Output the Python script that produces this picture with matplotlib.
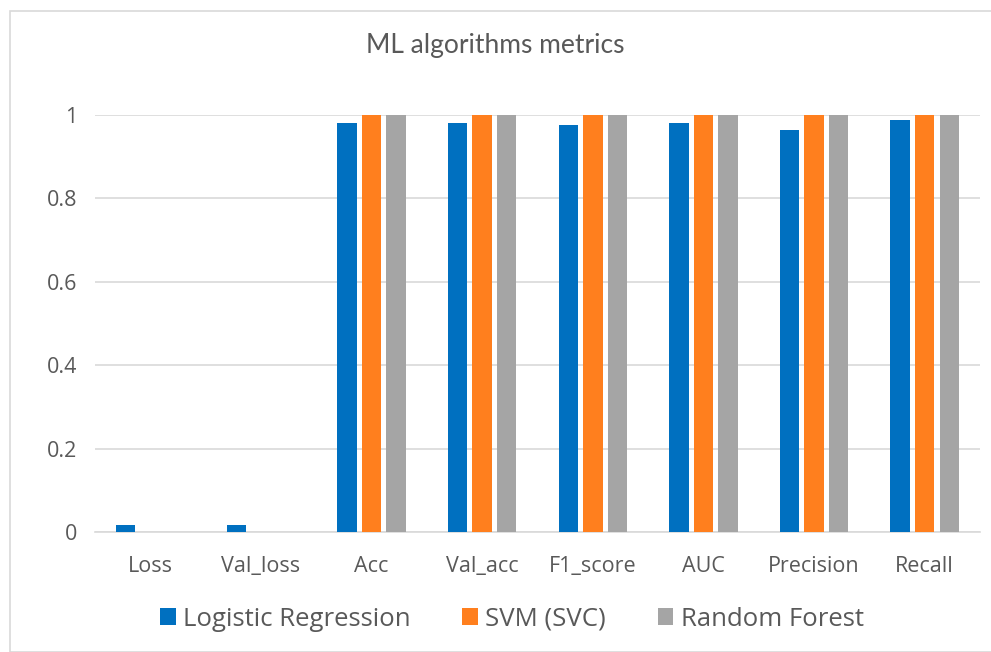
import matplotlib
matplotlib.use("Agg")
import matplotlib.pyplot as plt
import numpy as np
from matplotlib.patches import Rectangle

categories = ["Loss", "Val_loss", "Acc", "Val_acc", "F1_score", "AUC", "Precision", "Recall"]
series_names = ["Logistic Regression", "SVM (SVC)", "Random Forest"]
logreg = [0.016, 0.016, 0.980, 0.980, 0.975, 0.982, 0.964, 0.987]
svm = [0.0, 0.0, 1.0, 1.0, 1.0, 1.0, 1.0, 1.0]
rforest = [0.0, 0.0, 1.0, 1.0, 1.0, 1.0, 1.0, 1.0]
yticks = [0, 0.2, 0.4, 0.6, 0.8, 1]
ytick_labels = ["0", "0.2", "0.4", "0.6", "0.8", "1"]

colors = ["#0070C0", "#FF7F1E", "#A5A5A5"]
text_color = "#595959"
plt.rcParams["font.family"] = ["Open Sans", "DejaVu Sans"]

W, H = 991, 652
fig = plt.figure(figsize=(W / 100, H / 100), dpi=100)

# chart frame
fig.patches.append(Rectangle((10 / W, 0), 1.2, 1 - 11 / H, transform=fig.transFigure,
                             fill=False, edgecolor="#d9d9d9", linewidth=1.2))

ax = fig.add_axes([95 / W, 1 - 532 / H, 885 / W, 417 / H])
x = np.arange(len(categories))
step = 0.222
width = 0.176
for i, (vals, name) in enumerate(zip([logreg, svm, rforest], series_names)):
    ax.bar(x + (i - 1) * step, vals, width=width, color=colors[i], label=name, zorder=3)

ax.set_xlim(-0.5, len(categories) - 0.5)
ax.set_ylim(0, 1)
ax.set_yticks(yticks)
ax.set_yticklabels(ytick_labels)
ax.set_xticks(x)
ax.set_xticklabels(categories)
ax.yaxis.grid(True, color="#d9d9d9", linewidth=1.2, zorder=0)
ax.tick_params(axis="both", length=0, labelsize=15.5, colors=text_color)
ax.tick_params(axis="x", pad=17)
ax.tick_params(axis="y", pad=13)
for s in ["top", "right", "left"]:
    ax.spines[s].set_visible(False)
ax.spines["bottom"].set_color("#d9d9d9")
ax.spines["bottom"].set_linewidth(1.2)

fig.text(0.5, 1 - 45 / H, "ML algorithms metrics", ha="center", va="center",
         fontsize=19, color=text_color, family=["Lato", "DejaVu Sans"])

fig.legend(loc="center", bbox_to_anchor=(512 / W, 1 - 619 / H), ncol=3, frameon=False,
           fontsize=18.5, labelcolor=text_color, handlelength=0.6, handleheight=0.6,
           handletextpad=0.3, columnspacing=2.0)

fig.savefig("out.png", dpi=100)
